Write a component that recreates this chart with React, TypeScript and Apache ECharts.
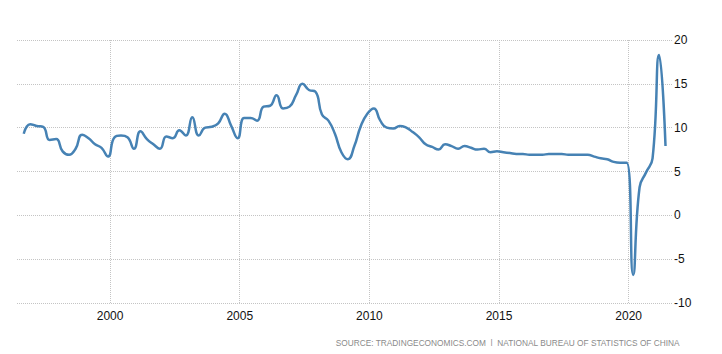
import React, { useEffect, useRef } from "react";
import * as echarts from "echarts";

// Quarterly periods, 1996 Q3 .. 2021 Q2
const firstYear = 1996;
const firstQuarter = 3;

// GDP annual growth rate (%), one value per quarter
const gdpGrowth: number[] = [
  9.3, 10.4, // 1996 Q3-Q4
  10.2, 10.1, 8.6, 8.7, // 1997
  7.3, 6.9, 7.6, 9.2, // 1998
  8.8, 8.1, 7.7, 6.7, // 1999
  8.9, 9.1, 8.9, 7.6, // 2000
  9.6, 8.7, 8.1, 7.6, // 2001
  9.0, 8.8, 9.7, 9.1, // 2002
  11.2, 9.1, 10.0, 10.1, // 2003
  10.5, 11.6, 10.2, 8.8, // 2004
  11.1, 11.1, 10.8, 12.4, // 2005
  12.5, 13.7, 12.2, 12.4, // 2006
  13.7, 15.0, 14.3, 14.1, // 2007
  11.5, 10.8, 9.3, 7.2, // 2008
  6.4, 7.9, 10.2, 11.6, // 2009
  12.2, 10.8, 10.0, 9.9, // 2010
  10.2, 10.0, 9.5, 8.9, // 2011
  8.1, 7.8, 7.5, 8.1, // 2012
  7.9, 7.6, 7.9, 7.7, // 2013
  7.5, 7.6, 7.2, 7.3, // 2014
  7.2, 7.1, 7.0, 7.0, // 2015
  6.9, 6.9, 6.9, 7.0, // 2016
  7.0, 7.0, 6.9, 6.9, // 2017
  6.9, 6.9, 6.7, 6.5, // 2018
  6.4, 6.1, 6.0, 6.0, // 2019
  -6.8, 3.2, 4.9, 6.5, // 2020
  18.3, 7.9, // 2021 Q1-Q2
];

const quarterLabels: string[] = gdpGrowth.map((_, i) => {
  const q0 = firstQuarter - 1 + i;
  return `${firstYear + Math.floor(q0 / 4)}Q${(q0 % 4) + 1}`;
});

const xTickYears = [2000, 2005, 2010, 2015, 2020];
const yMin = -10;
const yMax = 20;
const yStep = 5;

const sourceText =
  "SOURCE: TRADINGECONOMICS.COM  |  NATIONAL BUREAU OF STATISTICS OF CHINA";

// quarter label -> fractional year (point sits near the end of the quarter)
function quarterToYear(label: string): number {
  const [y, q] = label.split("Q");
  return Number(y) + Number(q) / 4 - 0.08;
}

export default function App() {
  const ref = useRef<HTMLDivElement>(null);

  useEffect(() => {
    if (!ref.current) return;
    const chart = echarts.init(ref.current, undefined, { renderer: "svg" });
    const font = "'Liberation Sans', Arial, sans-serif";
    const option: any = {
      animation: false,
      backgroundColor: "#ffffff",
      grid: { left: 17, right: 50, top: 40, bottom: 51 },
      xAxis: {
        type: "value",
        min: 1996.41,
        max: 2021.67,
        axisLine: { show: false },
        axisTick: { show: false, customValues: xTickYears },
        axisLabel: {
          customValues: xTickYears,
          formatter: (v: number) => String(v),
          color: "#111",
          fontSize: 12,
          fontFamily: font,
          margin: 7,
        },
        splitLine: {
          show: true,
          lineStyle: { type: "dotted", color: "#c4c4c4", width: 1 },
        },
      },
      yAxis: {
        type: "value",
        position: "right",
        min: yMin,
        max: yMax,
        interval: yStep,
        axisLine: { show: false },
        axisTick: { show: false },
        axisLabel: {
          color: "#111",
          fontSize: 12,
          fontFamily: font,
          margin: 2,
          align: "left",
        },
        splitLine: {
          show: true,
          lineStyle: { type: "dotted", color: "#c4c4c4", width: 1 },
        },
      },
      series: [
        {
          type: "line",
          name: "GDP Annual Growth Rate",
          data: quarterLabels.map((q, i) => [quarterToYear(q), gdpGrowth[i]]),
          smooth: 0.5,
          showSymbol: false,
          lineStyle: { color: "#4682b4", width: 2.5 },
          itemStyle: { color: "#4682b4" },
        },
      ],
      graphic: [
        {
          type: "text",
          right: 42,
          top: 339,
          style: {
            text: sourceText,
            fill: "#8a8a8a",
            font: `8.3px ${font}`,
          },
        },
      ],
    };
    chart.setOption(option);
    return () => chart.dispose();
  }, []);

  return <div ref={ref} style={{ width: 722, height: 354, margin: -8 }} />;
}
